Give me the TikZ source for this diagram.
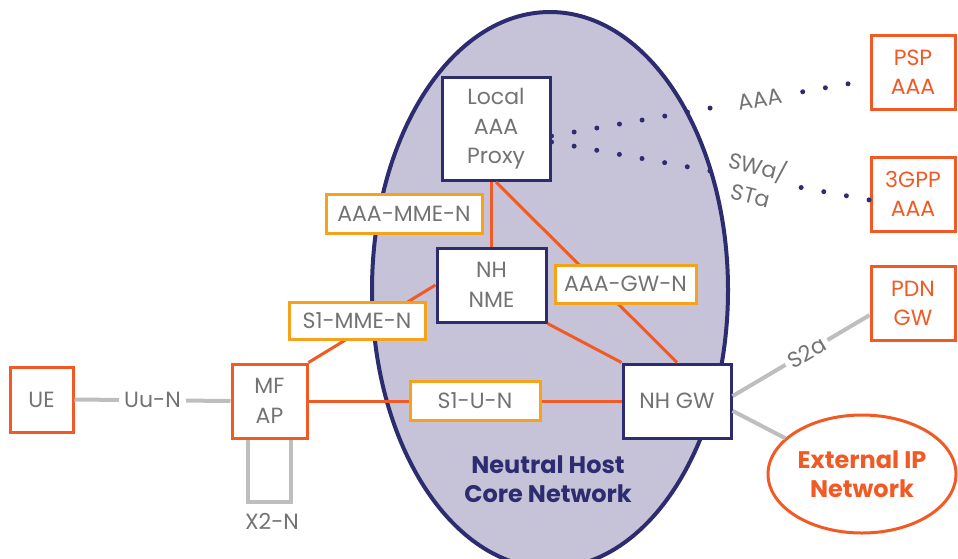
\documentclass[tikz,border=0pt]{standalone}
\usepackage{fontspec}
\usetikzlibrary{shapes.geometric}
\setmainfont{Poppins}
\definecolor{navy}{HTML}{2E2C70}
\definecolor{lav}{HTML}{C6C3D8}
\definecolor{orng}{HTML}{F15A24}
\definecolor{yel}{HTML}{F7A21B}
\definecolor{gline}{HTML}{BEBEBE}
\definecolor{gtext}{HTML}{737373}
\begin{document}
\begin{tikzpicture}[x=1pt,y=-1pt,
  txt/.style={font=\fontsize{22}{29.5}\selectfont, text=gtext, align=center},
  navybox/.style={txt, draw=navy, line width=3, fill=white, inner sep=0},
  orbox/.style={txt, draw=orng, line width=3, fill=white, inner sep=0},
  orboxt/.style={orbox, text=orng},
  lbl/.style={txt, draw=yel, line width=3, fill=white, inner sep=0},
  oline/.style={draw=orng, line width=3},
  gl/.style={draw=gline, line width=4},
  dotl/.style={draw=navy, line width=5, line cap=round, dash pattern=on 0pt off 23pt},
  free/.style={txt, fill=white, inner sep=2},
  bigb/.style={align=center, font=\fontsize{24}{29}\selectfont\bfseries}
]
\useasboundingbox (0,0) rectangle (958,558);
\clip (0,0) rectangle (958,558);
% core ellipse
\draw[navy, line width=4, fill=lav] (550,290) ellipse [x radius=178, y radius=278];
\node[bigb, text=navy] (core) at (548,479) {Neutral Host\\Core Network};
% nodes
\node[navybox, minimum width=108, minimum height=103] (proxy) at (496,129) {Local\\AAA\\Proxy};
\node[navybox, minimum width=109, minimum height=74] (nme) at (491.5,285) {NH\\NME};
\node[navybox, minimum width=108, minimum height=74] (gw) at (677,401) {NH GW};
\node[orbox, minimum width=63, minimum height=65] (ue) at (41.5,399.5) {UE};
\node[orbox, minimum width=75, minimum height=74] (ap) at (269.5,401) {MF\\AP};
\node[orboxt, minimum width=84, minimum height=74] (psp) at (913,72) {PSP\\AAA};
\node[orboxt, minimum width=84, minimum height=74] (tgpp) at (913,194) {3GPP\\AAA};
\node[orboxt, minimum width=84, minimum height=74] (pdn) at (913,303.5) {PDN\\GW};
% orange connectors
\draw[oline] (nme.north |- proxy.south) -- (nme.north);
\draw[oline] (proxy.south) -- (gw.north);
\draw[oline] (nme.south east) -- (gw.north west);
\draw[oline] (ap.north east) -- (nme.west);
\draw[oline] (ap.east) -- (gw.west);
% interface labels
\node[lbl, minimum width=156, minimum height=39] (aaamme) at (404,213.5) {AAA-MME-N};
\node[lbl, minimum width=136, minimum height=37] (s1mme) at (357,320.5) {S1-MME-N};
\node[lbl, minimum width=141, minimum height=38] (aaagw) at (625.5,284) {AAA-GW-N};
\node[lbl, minimum width=130, minimum height=39] (s1u) at (475,400.5) {S1-U-N};
% gray connectors
\draw[gl] (ue.east) -- node[free, inner xsep=5] (uun) {Uu-N} (ap.west);
\draw[gl] (ap.south -| 248,0) -- (248,502) -- (291,502) -- (ap.south -| 291,0);
\node[txt] (x2n) at (272,521) {X2-N};
\node[draw=orng, line width=3, fill=white, ellipse, minimum width=188, minimum height=118, inner sep=0,
  text=orng, bigb] (ext) at (862,474) {External IP\\Network};
\draw[gl] (gw.5) -- node[free, sloped, pos=0.54, inner xsep=4] (s2a) {S2a} (pdn.195);
\draw[gl] (gw.-10) -- (ext.155);
% dotted AAA
\path ([yshift=-7pt]proxy.east) -- coordinate[pos=0.505] (a1) coordinate[pos=0.79] (a2)
  node[txt, sloped, pos=0.655] (aaa) {AAA} ([yshift=-8pt]psp.west);
\draw[dotl] ([yshift=-7pt]proxy.east) -- (a1);
\draw[dotl] (a2) -- ([yshift=-8pt]psp.west);
\path ([yshift=-13pt]proxy.east) -- coordinate[pos=0.50] (b1) coordinate[pos=0.785] (b2)
  node[txt, sloped, pos=0.64, rotate=-4] (swa) {SWa/\\STa} ([yshift=-6pt]tgpp.west);
\draw[dotl] ([yshift=-13pt]proxy.east) -- (b1);
\draw[dotl] (b2) -- ([yshift=-6pt]tgpp.west);
\end{tikzpicture}
\end{document}
